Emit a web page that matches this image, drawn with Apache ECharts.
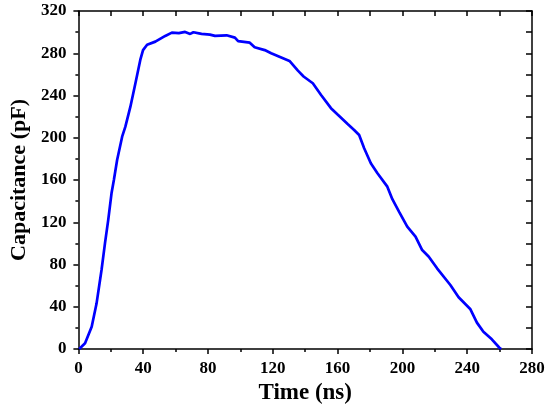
<!DOCTYPE html>
<html>
<head>
<meta charset="utf-8">
<script src="https://cdn.jsdelivr.net/npm/echarts@6/dist/echarts.min.js"></script>
<style>html,body{margin:0;padding:0;background:#fff;}#chart{width:550px;height:410px;}</style>
</head>
<body>
<div id="chart"></div>
<script>
var timeNs = [0.5, 4.1, 8.2, 11.2, 14.3, 16.4, 18.4, 20.5, 21.9, 23.9, 27, 29, 32.1, 35.2, 38.2, 39.9, 42.4, 47.5, 53.6, 57.7, 58.7, 62, 65.9, 69, 71, 76, 81.2, 84.3, 91.5, 96.6, 98.6, 105.8, 108.8, 115, 119, 125.2, 130.3, 135.5, 139, 144.7, 149.8, 155.9, 160, 166.2, 170.2, 173.3, 176.4, 180.5, 184.6, 190.7, 193.8, 197.9, 203, 208.1, 212.2, 216.3, 221.4, 229.6, 234.7, 242, 246, 250, 255.2, 259.9, 261];
var capacitancePF = [0, 5.4, 21, 43, 75, 100, 122, 148, 160, 179, 201, 210.5, 229.4, 251.6, 273.7, 283, 288, 291, 296.4, 299.5, 298, 299, 300.2, 298.3, 299.9, 298.3, 297.6, 296.4, 297, 294.8, 291.4, 290, 285.7, 283, 280, 276, 272.7, 263.5, 258, 251.6, 240.5, 228, 222, 213, 207.4, 202.6, 190, 175.9, 166.4, 153.7, 141.8, 130, 115.8, 106.4, 93.7, 87.4, 76.4, 60.6, 49, 37.6, 25, 16.4, 9.2, 1.2, 0];
var xTitle = 'Time (ns)';
var yTitle = 'Capacitance (pF)';

var pts = timeNs.map(function (t, i) { return [t, capacitancePF[i]]; });
var font = 'Liberation Serif';
var lineStyle = { color: '#000', width: 1.5 };

var chart = echarts.init(document.getElementById('chart'));
chart.setOption({
  animation: false,
  backgroundColor: '#fff',
  grid: { left: 76, right: 18, top: 11, bottom: 61 },
  xAxis: [{
    type: 'value', min: 0, max: 280, interval: 40, position: 'bottom',
    name: xTitle, nameLocation: 'middle', nameGap: 30,
    nameTextStyle: { fontFamily: font, fontWeight: 'bold', fontSize: 23, color: '#000' },
    axisLine: { show: true, onZero: false, lineStyle: lineStyle },
    axisTick: { show: true, inside: false, length: 5, lineStyle: lineStyle },
    minorTick: { show: true, splitNumber: 2, length: 3, lineStyle: lineStyle },
    axisLabel: { fontFamily: font, fontWeight: 'bold', fontSize: 17, color: '#000', margin: 11 },
    splitLine: { show: false }, minorSplitLine: { show: false }
  }, {
    type: 'value', min: 0, max: 280, interval: 20, position: 'top',
    axisLine: { show: true, onZero: false, lineStyle: lineStyle },
    axisTick: { show: true, inside: true, length: 5, lineStyle: lineStyle },
    axisLabel: { show: false }, splitLine: { show: false }
  }],
  yAxis: [{
    type: 'value', min: 0, max: 320, interval: 40, position: 'left',
    name: yTitle, nameLocation: 'middle', nameGap: 46,
    nameTextStyle: { fontFamily: font, fontWeight: 'bold', fontSize: 22, color: '#000' },
    axisLine: { show: true, onZero: false, lineStyle: lineStyle },
    axisTick: { show: true, inside: false, length: 5, lineStyle: lineStyle },
    minorTick: { show: true, splitNumber: 2, length: 3, lineStyle: lineStyle },
    axisLabel: { fontFamily: font, fontWeight: 'bold', fontSize: 17, color: '#000', margin: 12 },
    splitLine: { show: false }, minorSplitLine: { show: false }
  }, {
    type: 'value', min: 0, max: 320, interval: 20, position: 'right',
    axisLine: { show: true, onZero: false, lineStyle: lineStyle },
    axisTick: { show: true, inside: true, length: 6, lineStyle: lineStyle },
    axisLabel: { show: false }, splitLine: { show: false }
  }],
  series: [{
    type: 'line', xAxisIndex: 0, yAxisIndex: 0,
    data: pts, showSymbol: false, symbol: 'none', smooth: false,
    lineStyle: { color: '#0000ff', width: 2.7 }
  }]
});
</script>
</body>
</html>
